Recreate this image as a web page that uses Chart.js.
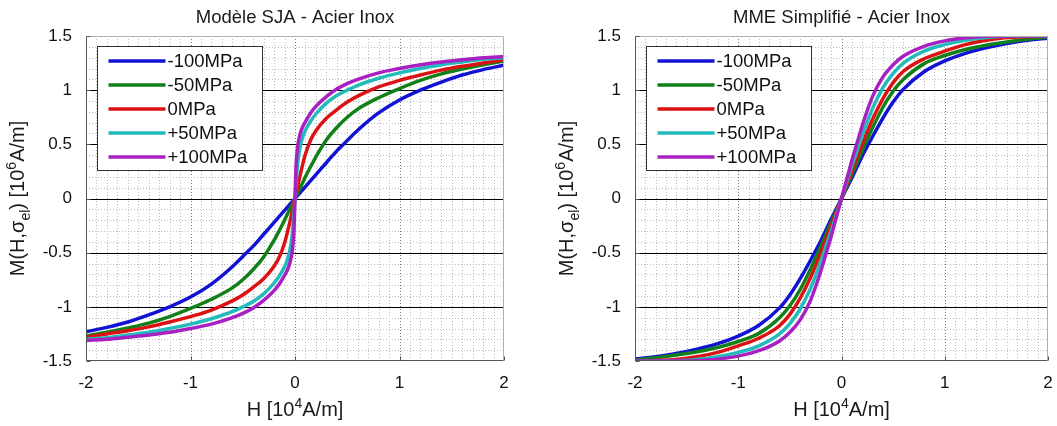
<!DOCTYPE html>
<html>
<head>
<meta charset="utf-8">
<script src="https://cdn.jsdelivr.net/npm/chart.js@4.4.1/dist/chart.umd.min.js"></script>
<style>
html, body { margin: 0; padding: 0; background: #fff; }
#wrap { position: relative; width: 1057px; height: 426px; }
canvas { position: absolute; top: 0; }
#sja { left: 0; }
#mme { left: 528px; }
</style>
</head>
<body>
<div id="wrap">
  <canvas id="sja" width="528" height="426"></canvas>
  <canvas id="mme" width="529" height="426"></canvas>
</div>
<script>
// H field values [10^4 A/m], shared by every curve
const fieldH = [-2, -1.8, -1.6, -1.4, -1.2, -1, -0.8, -0.6, -0.5, -0.4, -0.3, -0.2, -0.15, -0.1, -0.075, -0.05, -0.03, -0.02, -0.01, 0,
                0.01, 0.02, 0.03, 0.05, 0.075, 0.1, 0.15, 0.2, 0.3, 0.4, 0.5, 0.6, 0.8, 1, 1.2, 1.4, 1.6, 1.8, 2];
const stressLabels = ['-100MPa', '-50MPa', '0MPa', '+50MPa', '+100MPa'];
const xTicks = [-2, -1, 0, 1, 2];
const yTicks = [-1.5, -1, -0.5, 0, 0.5, 1, 1.5];

// Modèle SJA  M [10^6 A/m]
const sjaM100 = [-1.23,-1.19,-1.14,-1.075,-1.00,-0.91,-0.79,-0.63,-0.535,-0.44,-0.33,-0.22,-0.165,-0.11,-0.083,-0.055,-0.033,-0.022,-0.011,0,
                 0.011,0.022,0.033,0.055,0.083,0.11,0.165,0.22,0.33,0.44,0.535,0.63,0.79,0.91,1.00,1.075,1.14,1.19,1.23];
const sjaM50 = [-1.27,-1.235,-1.195,-1.15,-1.09,-1.015,-0.93,-0.825,-0.75,-0.655,-0.54,-0.385,-0.295,-0.20,-0.15,-0.10,-0.06,-0.04,-0.02,0,
                0.02,0.04,0.06,0.10,0.15,0.20,0.295,0.385,0.54,0.655,0.75,0.825,0.93,1.015,1.09,1.15,1.195,1.235,1.27];
const sjaP0 = [-1.28,-1.25,-1.22,-1.185,-1.14,-1.09,-1.03,-0.945,-0.89,-0.82,-0.74,-0.625,-0.54,-0.41,-0.32,-0.22,-0.135,-0.09,-0.045,0,
               0.045,0.09,0.135,0.22,0.32,0.41,0.54,0.625,0.74,0.82,0.89,0.945,1.03,1.09,1.14,1.185,1.22,1.25,1.28];
const sjaP50 = [-1.30,-1.285,-1.26,-1.235,-1.20,-1.16,-1.11,-1.045,-1.00,-0.95,-0.88,-0.78,-0.715,-0.63,-0.57,-0.48,-0.36,-0.26,-0.14,0,
                0.14,0.26,0.36,0.48,0.57,0.63,0.715,0.78,0.88,0.95,1.00,1.045,1.11,1.16,1.20,1.235,1.26,1.285,1.30];
const sjaP100 = [-1.31,-1.30,-1.28,-1.26,-1.235,-1.20,-1.16,-1.10,-1.06,-1.01,-0.94,-0.85,-0.79,-0.71,-0.665,-0.60,-0.51,-0.43,-0.30,0,
                 0.30,0.43,0.51,0.60,0.665,0.71,0.79,0.85,0.94,1.01,1.06,1.10,1.16,1.20,1.235,1.26,1.28,1.30,1.31];

// MME simplifié  M [10^6 A/m]
const mmeM100 = [-1.48,-1.46,-1.43,-1.39,-1.34,-1.27,-1.17,-1.01,-0.89,-0.74,-0.57,-0.39,-0.29,-0.19,-0.143,-0.095,-0.057,-0.038,-0.019,0,
                 0.019,0.038,0.057,0.095,0.143,0.19,0.29,0.39,0.57,0.74,0.89,1.01,1.17,1.27,1.34,1.39,1.43,1.46,1.48];
const mmeM50 = [-1.49,-1.47,-1.445,-1.415,-1.375,-1.32,-1.245,-1.10,-0.99,-0.84,-0.65,-0.44,-0.33,-0.22,-0.165,-0.11,-0.066,-0.044,-0.022,0,
                0.022,0.044,0.066,0.11,0.165,0.22,0.33,0.44,0.65,0.84,0.99,1.10,1.245,1.32,1.375,1.415,1.445,1.47,1.49];
const mmeP0 = [-1.50,-1.495,-1.485,-1.46,-1.42,-1.36,-1.29,-1.175,-1.07,-0.92,-0.73,-0.50,-0.375,-0.25,-0.19,-0.125,-0.075,-0.05,-0.025,0,
               0.025,0.05,0.075,0.125,0.19,0.25,0.375,0.50,0.73,0.92,1.07,1.175,1.29,1.36,1.42,1.46,1.485,1.495,1.50];
const mmeP50 = [-1.50,-1.50,-1.497,-1.485,-1.46,-1.42,-1.36,-1.25,-1.155,-1.02,-0.83,-0.58,-0.44,-0.30,-0.225,-0.15,-0.09,-0.06,-0.03,0,
                0.03,0.06,0.09,0.15,0.225,0.30,0.44,0.58,0.83,1.02,1.155,1.25,1.36,1.42,1.46,1.485,1.497,1.50,1.50];
const mmeP100 = [-1.50,-1.50,-1.50,-1.497,-1.483,-1.455,-1.405,-1.315,-1.235,-1.12,-0.94,-0.67,-0.51,-0.35,-0.26,-0.175,-0.105,-0.07,-0.035,0,
                 0.035,0.07,0.105,0.175,0.26,0.35,0.51,0.67,0.94,1.12,1.235,1.315,1.405,1.455,1.483,1.497,1.50,1.50,1.50];

const colors = ['#1212d4', '#118018', '#dc1212', '#22baba', '#a920c2'];
const FONT = '"Liberation Sans", Arial, sans-serif';

function makeDatasets(series) {
    return series.map((s, i) => ({
        label: stressLabels[i],
        data: fieldH.map((h, k) => ({ x: h, y: s[k] })),
        borderColor: colors[i],
        borderWidth: 3.5,
        pointRadius: 0,
        fill: false,
        cubicInterpolationMode: 'monotone',
        order: 4 - i   // magenta on top
    }));
}

// draw text with sub / superscripts, centred on cx, baseline at y
function drawRich(ctx, parts, cx, y, size) {
    const small = Math.round(size * 0.7);
    let w = 0;
    parts.forEach(p => {
        ctx.font = (p.sub || p.sup ? small : size) + 'px ' + FONT;
        w += ctx.measureText(p.t).width;
    });
    let x = cx - w / 2;
    ctx.textAlign = 'left';
    ctx.textBaseline = 'alphabetic';
    parts.forEach(p => {
        ctx.font = (p.sub || p.sup ? small : size) + 'px ' + FONT;
        const dy = p.sub ? size * 0.28 : p.sup ? -size * 0.4 : 0;
        ctx.fillText(p.t, x, y + dy);
        x += ctx.measureText(p.t).width;
    });
}

const yTitle = [{ t: 'M(H,σ' }, { t: 'el', sub: true }, { t: ') [10' }, { t: '6', sup: true }, { t: 'A/m]' }];
const xTitle = [{ t: 'H [10' }, { t: '4', sup: true }, { t: 'A/m]' }];

const matlabLook = {
    id: 'matlabLook',
    beforeDatasetsDraw(chart) {
        const { ctx, chartArea: a, scales: { x, y } } = chart;
        ctx.save();
        ctx.lineWidth = 1;
        // vertical grid
        for (let k = -19; k <= 19; k++) {
            const px = Math.round(x.getPixelForValue(k / 10)) + 0.5;
            ctx.strokeStyle = k % 10 === 0 ? '#7a7a7a' : '#bdbdbd';
            ctx.setLineDash([1, 2]);
            ctx.beginPath(); ctx.moveTo(px, a.top); ctx.lineTo(px, a.bottom); ctx.stroke();
        }
        // horizontal grid
        for (let k = -14; k <= 14; k++) {
            const py = Math.round(y.getPixelForValue(k / 10)) + 0.5;
            if (k % 5 === 0) {
                ctx.setLineDash([]);
                ctx.strokeStyle = '#000';
            } else {
                ctx.setLineDash([1, 2]);
                ctx.strokeStyle = '#bdbdbd';
            }
            ctx.beginPath(); ctx.moveTo(a.left, py); ctx.lineTo(a.right, py); ctx.stroke();
        }
        ctx.restore();
    },
    afterDatasetsDraw(chart) {
        const { ctx, chartArea: a, scales: { x, y } } = chart;
        ctx.save();
        ctx.lineWidth = 1;
        ctx.setLineDash([]);
        const L = Math.round(a.left) + 0.5, R = Math.round(a.right) - 0.5;
        const T = Math.round(a.top) + 0.5, B = Math.round(a.bottom) - 0.5;
        ctx.strokeStyle = '#b0b0b0';
        ctx.beginPath(); ctx.moveTo(L, T); ctx.lineTo(R, T); ctx.lineTo(R, B); ctx.stroke();
        ctx.strokeStyle = '#555';
        ctx.beginPath(); ctx.moveTo(L, T); ctx.lineTo(L, B); ctx.lineTo(R, B); ctx.stroke();
        xTicks.forEach(v => {
            const px = Math.round(x.getPixelForValue(v)) + 0.5;
            ctx.beginPath(); ctx.moveTo(px, B); ctx.lineTo(px, B - 4); ctx.stroke();
        });
        yTicks.forEach(v => {
            const py = Math.round(y.getPixelForValue(v)) + 0.5;
            ctx.beginPath(); ctx.moveTo(L, py); ctx.lineTo(L + 4, py); ctx.stroke();
        });

        // legend box
        const bx = Math.round(a.left) + 11.5, by = Math.round(a.top) + 10.5;
        const bw = 165, bh = 124;
        ctx.fillStyle = '#fff';
        ctx.fillRect(bx, by, bw, bh);
        ctx.strokeStyle = '#333';
        ctx.strokeRect(bx, by, bw, bh);
        ctx.font = '18.5px ' + FONT;
        ctx.textBaseline = 'middle';
        ctx.textAlign = 'left';
        chart.data.datasets.forEach((ds, i) => {
            const cy = by + 14.5 + i * 24;
            ctx.strokeStyle = ds.borderColor;
            ctx.lineWidth = 3.5;
            ctx.beginPath(); ctx.moveTo(bx + 11, cy); ctx.lineTo(bx + 68, cy); ctx.stroke();
            ctx.fillStyle = '#111';
            ctx.fillText(ds.label, bx + 70, cy + 1);
        });

        // titles
        ctx.fillStyle = '#1a1a1a';
        const cx = (a.left + a.right) / 2;
        ctx.font = '18.5px ' + FONT;
        ctx.textAlign = 'center';
        ctx.textBaseline = 'alphabetic';
        ctx.fillText(chart.options.plugins.matlabLook.title, cx, 23);
        drawRich(ctx, xTitle, cx, 416, 20);
        ctx.translate(a.left - 62, (a.top + a.bottom) / 2);
        ctx.rotate(-Math.PI / 2);
        drawRich(ctx, yTitle, 0, 0, 20);
        ctx.restore();
    }
};

function makeChart(id, title, series, yWidth, padRight) {
    return new Chart(document.getElementById(id), {
        type: 'line',
        data: { datasets: makeDatasets(series) },
        plugins: [matlabLook],
        options: {
            responsive: false,
            animation: false,
            layout: { padding: { top: 36, right: padRight, left: 0, bottom: 0 } },
            plugins: {
                legend: { display: false },
                tooltip: { enabled: false },
                matlabLook: { title: title }
            },
            scales: {
                x: {
                    type: 'linear', min: -2, max: 2,
                    ticks: { stepSize: 1, color: '#111', padding: 4, maxRotation: 0, font: { family: FONT, size: 17 } },
                    grid: { display: false },
                    border: { display: false },
                    afterFit(s) { s.height = 65; }
                },
                y: {
                    type: 'linear', min: -1.5, max: 1.5,
                    ticks: { stepSize: 0.5, color: '#111', padding: 6, font: { family: FONT, size: 17 },
                             callback: v => String(v) },
                    grid: { display: false },
                    border: { display: false },
                    afterFit(s) { s.width = yWidth; }
                }
            }
        }
    });
}

makeChart('sja', 'Modèle SJA - Acier Inox', [sjaM100, sjaM50, sjaP0, sjaP50, sjaP100], 86, 24);
makeChart('mme', 'MME Simplifié - Acier Inox', [mmeM100, mmeM50, mmeP0, mmeP50, mmeP100], 107, 9);
</script>
</body>
</html>
